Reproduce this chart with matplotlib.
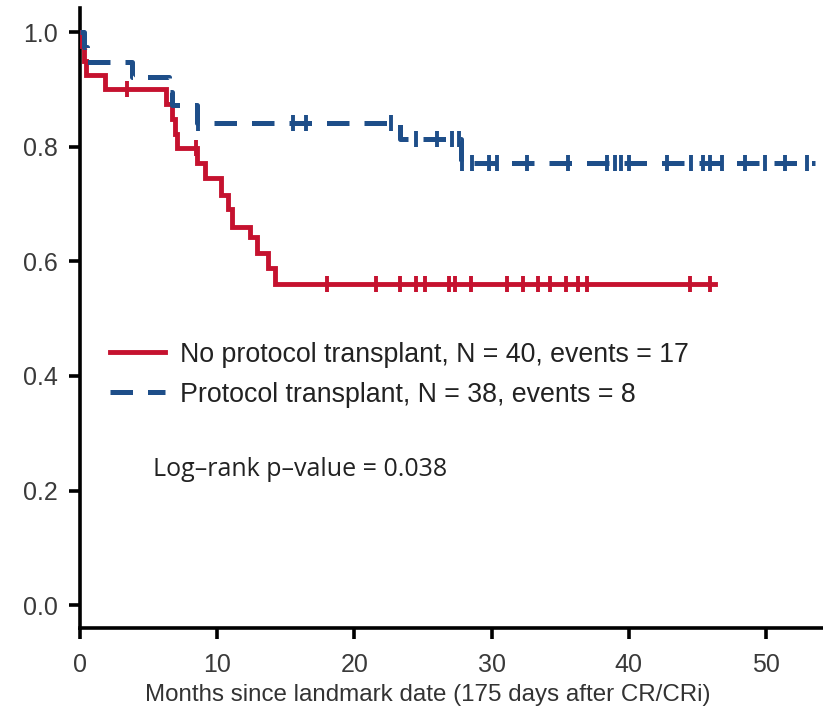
import numpy as np
import matplotlib
matplotlib.use("Agg")
import matplotlib.pyplot as plt

# Kaplan-Meier step levels (time in months, survival probability)
no_tx_times = [0, 0.15, 0.3, 0.45, 1.8, 6.3, 6.7, 6.9, 7.1, 8.5, 9.1, 10.25,
               10.8, 11.05, 12.4, 12.9, 13.7, 14.2, 46.3]
no_tx_surv = [1.0, 0.975, 0.95, 0.925, 0.9, 0.874, 0.848, 0.822, 0.797, 0.771,
              0.745, 0.716, 0.692, 0.66, 0.643, 0.614, 0.588, 0.561, 0.561]
no_tx_censored = [3.4, 8.45, 18.0, 21.6, 23.3, 24.5, 25.15, 26.9, 27.35, 28.5,
                  31.1, 32.3, 33.4, 34.25, 35.45, 36.3, 36.95, 44.45, 45.9]

tx_times = [0, 0.3, 0.5, 3.8, 6.5, 6.7, 8.5, 23.3, 27.75, 53.6]
tx_surv = [1.0, 0.974, 0.947, 0.921, 0.895, 0.873, 0.841, 0.814, 0.771, 0.771]
tx_censored = [8.6, 15.55, 16.5, 22.7, 24.5, 26.0, 27.1, 27.6, 27.85, 28.6,
               29.8, 30.4, 32.6, 35.6, 38.4, 39.0, 39.4, 40.0, 42.8, 44.5,
               45.4, 45.9, 46.8, 48.5, 49.9, 51.4, 53.0]

labels = ["No protocol transplant, N = 40, events = 17",
          "Protocol transplant, N = 38, events = 8"]
p_text = "Log\u2013rank p\u2013value = 0.038"
x_label = "Months since landmark date (175 days after CR/CRi)"
x_ticks = [0, 10, 20, 30, 40, 50]
y_ticks = [0.0, 0.2, 0.4, 0.6, 0.8, 1.0]

RED = "#C5122F"
BLUE = "#1E4E89"


def level_at(times, surv, t):
    idx = np.searchsorted(np.asarray(times), np.asarray(t), side="right") - 1
    return np.asarray(surv)[idx]


fig = plt.figure(figsize=(8.23, 7.14), dpi=100)
ax = fig.add_axes([0.0972, 0.1204, 0.9028, 0.8684])

red_line, = ax.step(no_tx_times, no_tx_surv, where="post", color=RED,
                    lw=3.5, solid_joinstyle="miter", zorder=3)
ax.plot(no_tx_censored, level_at(no_tx_times, no_tx_surv, no_tx_censored),
        ls="none", marker="|", ms=11, mew=2.8, color=RED, zorder=3)

blue_line, = ax.step(tx_times, tx_surv, where="post", color=BLUE, lw=3.6,
                     dashes=(4.5, 3.0), zorder=4)
ax.plot(tx_censored, level_at(tx_times, tx_surv, tx_censored),
        ls="none", marker="|", ms=11, mew=2.8, color=BLUE, zorder=4)

ax.set_xlim(0, 54.15)
ax.set_ylim(-0.040, 1.042)
ax.set_xticks(x_ticks)
ax.set_yticks(y_ticks)
ax.set_yticklabels([f"{v:.1f}" for v in y_ticks])

for side in ("top", "right"):
    ax.spines[side].set_visible(False)
for side in ("left", "bottom"):
    ax.spines[side].set_linewidth(2.6)
    ax.spines[side].set_color("black")

ax.tick_params(axis="both", direction="out", length=8, width=2.6,
               colors="black", labelcolor="#3a3a3a")
ax.tick_params(axis="y", labelsize=18, pad=8)
ax.tick_params(axis="x", labelsize=18, pad=10)
for lab in ax.get_xticklabels() + ax.get_yticklabels():
    lab.set_family("Liberation Sans")

ax.set_xlabel(x_label, fontsize=17.4, family="Liberation Sans",
              color="#333333")
ax.xaxis.set_label_coords(0.468, -0.091)
ax.xaxis.label.set_va("top")

leg = ax.legend([red_line, blue_line], labels, loc="upper left",
                bbox_to_anchor=(0.04, 0.462), frameon=False,
                prop={"family": "Liberation Sans", "size": 19.3},
                handlelength=2.05, handletextpad=0.56, labelspacing=0.53,
                borderpad=0, borderaxespad=0)
for t in leg.get_texts():
    t.set_color("#222222")

ax.text(0.098, 0.255, p_text, transform=ax.transAxes, fontsize=18,
        family="Open Sans", color="#222222", va="center", ha="left")

fig.savefig("out.png", dpi=100)
